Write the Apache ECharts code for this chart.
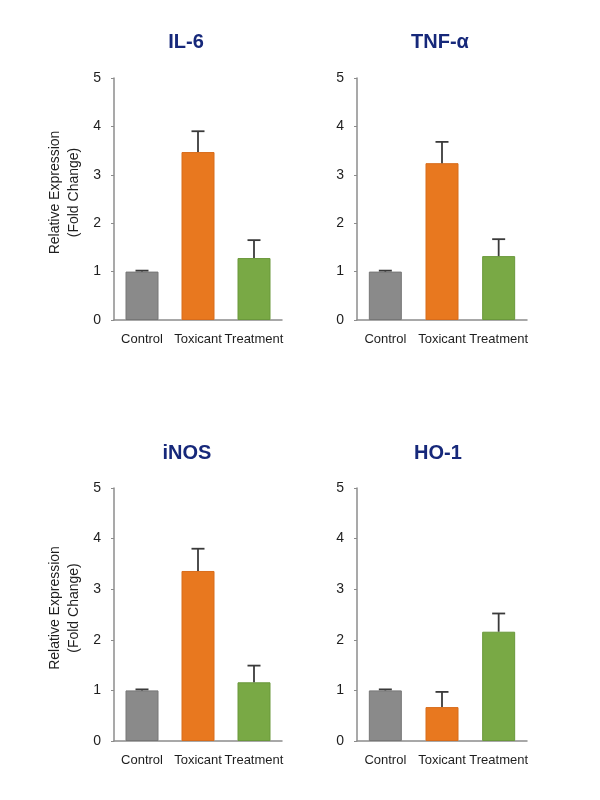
<!DOCTYPE html>
<html>
<head>
<meta charset="utf-8">
<script src="https://cdn.jsdelivr.net/npm/echarts@6/dist/echarts.min.js"></script>
<style>
  html, body { margin: 0; padding: 0; background: #fff; }
  #chart { width: 600px; height: 800px; }
</style>
</head>
<body>
<div id="chart"></div>
<script>
// data
var categories = ['Control', 'Toxicant', 'Treatment']
var panelTitles = ['IL-6', 'TNF-α', 'iNOS', 'HO-1']
var il6Mean = [1.0, 3.47, 1.28]
var il6Err = [0.02, 0.43, 0.37]
var tnfMean = [1.0, 3.24, 1.32]
var tnfErr = [0.02, 0.44, 0.35]
var inosMean = [1.0, 3.36, 1.16]
var inosErr = [0.02, 0.44, 0.33]
var ho1Mean = [1.0, 0.67, 2.16]
var ho1Err = [0.02, 0.30, 0.36]
var yMin = 0
var yMax = 5
var yStep = 1

var means = [il6Mean, tnfMean, inosMean, ho1Mean]
var errs = [il6Err, tnfErr, inosErr, ho1Err]

var barColors = ['#8a8a8a', '#e8781f', '#79a945']
var barBorders = ['#767676', '#d86c1b', '#6a983b']
var font = '"Liberation Sans", Arial, sans-serif'

// panel layout: [left, top, width, height]
var boxes = [
  [114, 78, 168, 242],
  [357, 78, 170, 242],
  [114, 488, 168, 253],
  [357, 488, 170, 253]
]
var titlePos = [[181, 27], [435, 27], [182, 438], [433, 438]]

var chart = echarts.init(document.getElementById('chart'))

var grids = []
var xAxes = []
var yAxes = []
var series = []
var titles = []

boxes.forEach(function (b, i) {
  grids.push({ left: b[0], top: b[1], width: b[2], height: b[3] })
  titles.push({
    text: panelTitles[i],
    left: titlePos[i][0],
    top: titlePos[i][1],
    textAlign: 'center',
    textStyle: { fontFamily: font, fontSize: 20, fontWeight: 'bold', color: '#16287a' }
  })
  xAxes.push({
    type: 'category',
    gridIndex: i,
    data: categories,
    axisLine: { lineStyle: { color: '#8c8c8c', width: 1.5 } },
    axisTick: { alignWithLabel: true, length: 4, lineStyle: { color: '#8c8c8c' } },
    axisLabel: { interval: 0, fontFamily: font, fontSize: 13, color: '#1e1e1e', margin: 13 }
  })
  var isLeft = i % 2 === 0
  yAxes.push({
    type: 'value',
    gridIndex: i,
    min: yMin,
    max: yMax,
    interval: yStep,
    name: isLeft ? 'Relative Expression\n(Fold Change)' : '',
    nameLocation: 'middle',
    nameGap: 30,
    nameTextStyle: { fontFamily: font, fontSize: 14, color: '#1e1e1e', lineHeight: 19, padding: [0, 0, 0, 13] },
    splitLine: { show: false },
    axisLine: { show: true, lineStyle: { color: '#8c8c8c', width: 1.5 } },
    axisTick: { show: true, length: 3, lineStyle: { color: '#8c8c8c' } },
    axisLabel: { fontFamily: font, fontSize: 14, color: '#1e1e1e', margin: 13 }
  })
  series.push({
    type: 'bar',
    xAxisIndex: i,
    yAxisIndex: i,
    barWidth: 33,
    data: means[i].map(function (v, k) {
      return {
        value: v,
        itemStyle: { color: barColors[k], borderColor: barBorders[k], borderWidth: 1 }
      }
    })
  })
  series.push({
    type: 'custom',
    xAxisIndex: i,
    yAxisIndex: i,
    z: 5,
    data: means[i].map(function (v, k) { return [k, v, errs[i][k]] }),
    renderItem: function (params, api) {
      var k = api.value(0)
      var lo = api.coord([k, api.value(1)])
      var hi = api.coord([k, api.value(1) + api.value(2)])
      var half = 6.5
      var st = { stroke: '#3a3a3a', lineWidth: 1.8 }
      return {
        type: 'group',
        children: [
          { type: 'line', shape: { x1: lo[0], y1: lo[1], x2: hi[0], y2: hi[1] }, style: st },
          { type: 'line', shape: { x1: hi[0] - half, y1: hi[1], x2: hi[0] + half, y2: hi[1] }, style: st }
        ]
      }
    }
  })
})

chart.setOption({
  backgroundColor: '#fff',
  animation: false,
  title: titles,
  grid: grids,
  xAxis: xAxes,
  yAxis: yAxes,
  series: series
})
</script>
</body>
</html>
